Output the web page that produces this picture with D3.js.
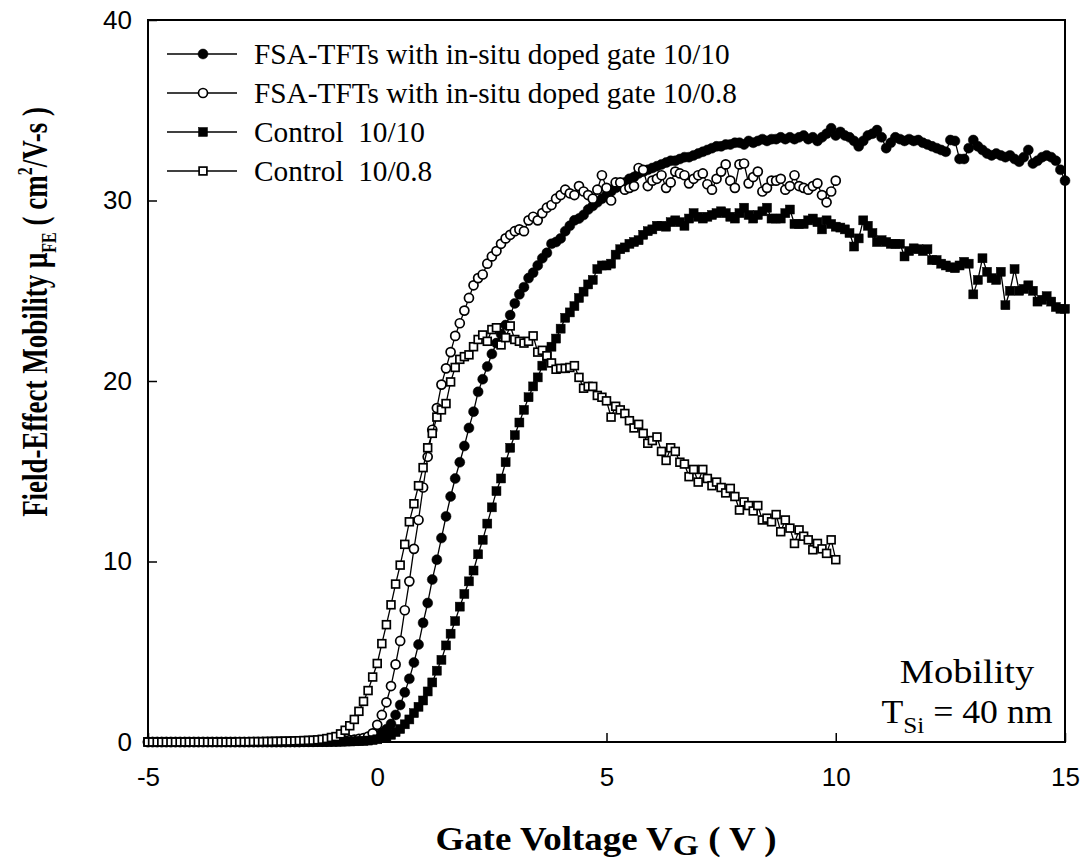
<!DOCTYPE html>
<html>
<head>
<meta charset="utf-8">
<script src="https://cdn.jsdelivr.net/npm/d3@7"></script>
<style>
  body { margin: 0; background: #fff; }
  svg { display: block; }
</style>
</head>
<body>
<svg id="chart" width="1088" height="863"></svg>
<script>
// Gate voltage sweep: -5 V upward in 0.1 V steps
const vgStart = -5
const vgStep = 0.1

// Field-effect mobility (cm2/V-s), one value per 0.1 V
const fsa1010 = [
  0, 0, 0, 0, 0, 0, 0, 0, 0, 0,
  0, 0, 0, 0, 0, 0, 0, 0, 0, 0,
  0, 0, 0, 0, 0, 0, 0, 0, 0, 0,
  0, 0, 0, 0, 0.01, 0.01, 0.01, 0.02, 0.02, 0.02,
  0.03, 0.03, 0.04, 0.05, 0.06, 0.07, 0.09, 0.12, 0.17, 0.24,
  0.35, 0.5, 0.7, 1.0, 1.5, 2.05, 2.75, 3.5, 4.4, 5.4,
  6.6, 7.7, 9.0, 10.1, 11.3, 12.5, 13.6, 14.6, 15.5, 16.4,
  17.4, 18.3, 19.4, 20.1, 20.8, 21.5, 22.1, 22.6, 23.1, 23.65,
  24.3, 24.8, 25.2, 25.7, 26.0, 26.4, 26.8, 27.1, 27.6, 27.7,
  27.9, 28.3, 28.6, 28.9, 29.0, 29.2, 29.5, 29.7, 29.9, 30.1,
  30.3, 30.5, 30.7, 30.8, 31.0, 31.2, 31.3, 31.5, 31.6, 31.7,
  31.8, 31.9, 32.0, 32.1, 32.2, 32.2, 32.3, 32.4, 32.4, 32.5,
  32.6, 32.7, 32.8, 32.9, 33.0, 33.0, 33.1, 33.1, 33.2, 33.2,
  33.1, 33.3, 33.2, 33.3, 33.4, 33.3, 33.4, 33.4, 33.5, 33.4,
  33.5, 33.4, 33.5, 33.6, 33.4, 33.5, 33.3, 33.5, 33.7, 34.0,
  33.6, 33.8, 33.6, 33.5, 33.3, 33.0, 33.3, 33.6, 33.7, 33.9,
  33.5, 32.9, 33.2, 33.5, 33.4, 33.3, 33.4, 33.3, 33.35, 33.2,
  33.1, 33.0, 32.9, 32.8, 32.7, 33.35, 33.3, 32.3, 32.3, 32.9,
  33.35, 33.0, 32.8, 32.6, 32.5, 32.6, 32.5, 32.4, 32.5, 32.3,
  32.15, 32.4, 32.8, 32.05, 32.2, 32.4, 32.5, 32.4, 32.2, 31.7,
  31.1
]

const fsa1008 = [
  0, 0, 0, 0, 0, 0, 0, 0, 0, 0,
  0, 0, 0, 0, 0, 0, 0, 0, 0, 0,
  0, 0, 0, 0, 0, 0, 0, 0, 0, 0,
  0, 0.01, 0.01, 0.01, 0.02, 0.02, 0.03, 0.03, 0.04, 0.05,
  0.05, 0.06, 0.07, 0.08, 0.1, 0.13, 0.17, 0.22, 0.3, 0.48,
  0.95, 1.5, 2.2, 3.1, 4.3, 5.6, 7.3, 8.9, 10.7, 12.3,
  14.1, 15.8, 17.3, 18.5, 19.8, 20.7, 21.6, 22.5, 23.2, 23.9,
  24.6, 25.3, 25.7, 25.9, 26.5, 26.9, 27.2, 27.6, 27.9, 28.1,
  28.3, 28.4, 28.3, 28.9, 29.1, 28.9, 29.3, 29.6, 29.75, 30.1,
  30.3, 30.6, 30.4, 30.3, 30.8, 30.5, 30.3, 30.1, 30.6, 31.4,
  30.7, 30.0, 31.0, 31.0, 30.6, 30.7, 30.8, 31.8, 31.7, 30.8,
  31.1, 31.2, 31.4, 30.7, 31.0, 31.6, 31.5, 31.4, 30.95, 31.2,
  31.4, 31.5, 30.9, 30.6, 31.2, 31.6, 32.0, 31.1, 30.7, 32.0,
  32.05, 30.95, 31.3, 31.6, 30.5, 30.7, 31.1, 31.1, 31.2, 30.6,
  30.8, 31.4, 30.8, 30.7, 30.6, 30.8, 30.95, 30.3, 29.9, 30.5,
  31.1
]

const control1010 = [
  0, 0, 0, 0, 0, 0, 0, 0, 0, 0,
  0, 0, 0, 0, 0, 0, 0, 0, 0, 0,
  0, 0, 0, 0, 0, 0, 0, 0, 0, 0,
  0, 0, 0, 0, 0, 0, 0.01, 0.01, 0.01, 0.01,
  0.02, 0.02, 0.02, 0.03, 0.03, 0.04, 0.05, 0.06, 0.08, 0.11,
  0.15, 0.22, 0.3, 0.4, 0.55, 0.72, 0.98, 1.25, 1.6, 1.95,
  2.3, 2.8, 3.3, 3.95, 4.55, 5.35, 6.0, 6.7, 7.5, 8.2,
  8.9, 9.5, 10.4, 11.2, 12.1, 13.0, 13.9, 14.6, 15.5, 16.3,
  17.0, 17.7, 18.4, 19.1, 19.7, 20.2, 20.85, 21.35, 21.9, 22.35,
  22.9, 23.5, 23.8, 24.15, 24.6, 24.95, 25.35, 25.6, 26.2, 26.4,
  26.4, 26.5, 27.0, 27.3, 27.4, 27.6, 27.7, 27.8, 28.1, 28.3,
  28.4, 28.6, 28.6, 28.55, 28.8, 28.9, 28.8, 28.6, 29.0, 29.3,
  29.1, 29.0, 29.1, 29.2, 29.3, 29.4, 29.3, 29.1, 29.0, 29.3,
  29.6, 29.2, 29.0, 29.2, 29.4, 29.6, 29.0, 29.0, 29.0, 29.3,
  29.5, 28.7, 28.7, 28.7, 28.9, 29.0, 28.8, 28.4, 28.9, 28.7,
  28.55, 28.5, 28.4, 28.2, 27.45, 27.9, 28.9, 28.6, 28.2, 27.7,
  27.8, 27.7, 27.6, 27.6, 27.6, 26.9, 27.2, 27.35, 27.3, 27.2,
  27.3, 26.7, 26.7, 26.5, 26.4, 26.3, 26.25, 26.4, 26.6, 26.5,
  24.8, 25.6, 26.8, 26.05, 25.7, 25.6, 26.05, 24.2, 25.0, 26.2,
  25.0, 25.1, 25.3, 25.0, 24.4, 24.5, 24.7, 24.4, 24.1, 24.0,
  24.0
]

const control1008 = [
  0, 0, 0, 0, 0, 0, 0, 0, 0, 0,
  0, 0, 0, 0, 0, 0, 0, 0, 0, 0,
  0.01, 0.01, 0.01, 0.02, 0.02, 0.02, 0.03, 0.03, 0.04, 0.04,
  0.05, 0.05, 0.06, 0.07, 0.08, 0.09, 0.1, 0.12, 0.15, 0.19,
  0.25, 0.3, 0.45, 0.65, 0.9, 1.25, 1.7, 2.25, 2.85, 3.6,
  4.35, 5.45, 6.5, 7.6, 8.75, 9.8, 10.95, 12.2, 13.2, 14.2,
  15.2, 16.3, 17.1, 18.0, 18.4, 18.75, 19.95, 20.75, 21.2, 21.35,
  21.45, 21.9, 22.3, 22.55, 22.2, 22.85, 22.95, 22.0, 22.4, 23.05,
  22.3, 22.2, 22.1, 22.2, 22.5, 21.6, 21.7, 21.4, 21.0, 20.65,
  20.7, 20.7, 20.75, 20.85, 20.2, 19.6, 19.7, 19.7, 19.2, 19.1,
  18.9, 18.0, 18.6, 18.4, 18.2, 17.8, 17.4, 17.6, 17.1, 16.55,
  16.7, 16.9, 16.1, 15.6, 16.3, 16.1, 15.5, 15.4, 14.7, 15.1,
  14.4, 15.1, 14.6, 14.2, 14.4, 14.1, 13.8, 14.05, 13.6, 12.85,
  13.3, 13.1, 12.8, 13.1, 12.3, 12.4, 12.2, 12.6, 11.65, 12.3,
  11.85, 11.0, 11.75, 11.4, 11.2, 10.65, 11.0, 10.7, 10.45, 11.2,
  10.1
]

const seriesNames = [
  'FSA-TFTs with in-situ doped gate 10/10',
  'FSA-TFTs with in-situ doped gate 10/0.8',
  'Control  10/10',
  'Control  10/0.8'
]
const seriesValues = [fsa1010, fsa1008, control1010, control1008]
const seriesShapes = ['circle', 'circle', 'square', 'square']
const seriesFilled = [true, false, true, false]

const xTicks = [-5, 0, 5, 10, 15]
const yTicks = [0, 10, 20, 30, 40]

const serif = "'Times New Roman', 'Liberation Serif', serif"
const sans = "Arial, 'Liberation Sans', sans-serif"

const svg = d3.select('#chart')
const x = d3.scaleLinear().domain([-5, 15]).range([148, 1065])
const y = d3.scaleLinear().domain([0, 40]).range([742, 20])

// Build the point lists from the sweep grid
const series = seriesValues.map((vals, i) => ({
  name: seriesNames[i],
  shape: seriesShapes[i],
  filled: seriesFilled[i],
  points: vals.map((m, k) => ({ vg: vgStart + k * vgStep, mu: m }))
}))

// Axes with inward ticks
const xAxis = svg.append('g')
  .attr('transform', `translate(0,${y(0)})`)
  .call(d3.axisBottom(x).tickValues(xTicks).tickSize(-9).tickPadding(26).tickFormat(d3.format('d')))
const yAxis = svg.append('g')
  .attr('transform', `translate(${x(-5)},0)`)
  .call(d3.axisLeft(y).tickValues(yTicks).tickSize(-9).tickPadding(16).tickFormat(d3.format('d')))
;[xAxis, yAxis].forEach(g => {
  g.select('.domain').remove()
  g.selectAll('.tick line').attr('stroke', '#000').attr('stroke-width', 1.5)
  g.selectAll('.tick text')
    .attr('fill', '#000')
    .style('font-family', sans)
    .style('font-size', '26px')
    .text(d => d < 0 ? '-' + Math.abs(d) : d)
})

// Frame
svg.append('rect')
  .attr('x', x(-5)).attr('y', y(40))
  .attr('width', x(15) - x(-5)).attr('height', y(0) - y(40))
  .attr('fill', 'none').attr('stroke', '#000').attr('stroke-width', 2)

const line = d3.line().x(d => x(d.vg)).y(d => y(d.mu))

const drawMarker = (sel, s, cx, cy) => {
  if (s.shape === 'circle') {
    sel.append('circle')
      .attr('cx', cx).attr('cy', cy).attr('r', s.filled ? 5 : 4.5)
      .attr('fill', s.filled ? '#000' : '#fff')
      .attr('stroke', '#000').attr('stroke-width', s.filled ? 0.5 : 1.7)
  } else {
    const a = s.filled ? 9 : 7.8
    sel.append('rect')
      .attr('x', cx - a / 2).attr('y', cy - a / 2)
      .attr('width', a).attr('height', a)
      .attr('fill', s.filled ? '#000' : '#fff')
      .attr('stroke', '#000').attr('stroke-width', s.filled ? 0.5 : 1.7)
  }
}

series.forEach(s => {
  const g = svg.append('g')
  g.append('path').datum(s.points)
    .attr('d', line).attr('fill', 'none')
    .attr('stroke', '#000').attr('stroke-width', 1.3)
  s.points.forEach(p => drawMarker(g, s, x(p.vg), y(p.mu)))
})

// Legend
const legend = svg.append('g')
series.forEach((s, i) => {
  const ly = 54 + i * 39
  legend.append('line')
    .attr('x1', 167).attr('x2', 237).attr('y1', ly).attr('y2', ly)
    .attr('stroke', '#000').attr('stroke-width', 1.5)
  drawMarker(legend, s, 203, ly)
  legend.append('text')
    .attr('x', 254).attr('y', ly + 10)
    .style('font-family', serif).style('font-size', '29.3px')
    .style('white-space', 'pre')
    .text(s.name)
})

// Annotation, the source figure is a little stretched sideways
const note = svg.append('text')
  .attr('transform', 'translate(967,683) scale(1.13,1)')
  .attr('text-anchor', 'middle')
  .style('font-family', serif).style('font-size', '34px')
  .text('Mobility')
const note2 = svg.append('text')
  .attr('transform', 'translate(967,723) scale(1.05,1)')
  .attr('text-anchor', 'middle')
  .style('font-family', serif).style('font-size', '34px')
  .style('white-space', 'pre')
note2.append('tspan').text('T')
note2.append('tspan').attr('dy', 10).style('font-size', '24px').text('Si')
note2.append('tspan').attr('dy', -10).text(' = 40 nm')

// Axis titles
const xt = svg.append('text')
  .attr('transform', 'translate(606,850) scale(1.12,1)')
  .attr('text-anchor', 'middle')
  .style('font-family', serif).style('font-size', '33px').style('font-weight', 'bold')
  .style('white-space', 'pre')
xt.append('tspan').text('Gate Voltage V')
xt.append('tspan').attr('dy', 5).style('font-size', '30px').text('G')
xt.append('tspan').attr('dy', -5).text(' ( V )')

const yt = svg.append('text')
  .attr('transform', 'translate(47,312) scale(1.35,1) rotate(-90)')
  .attr('text-anchor', 'middle')
  .style('font-family', serif).style('font-size', '27px').style('font-weight', 'bold')
  .style('white-space', 'pre')
yt.append('tspan').text('Field-Effect Mobility \u03bc')
yt.append('tspan').attr('dy', 7).style('font-size', '16px').text('FE')
yt.append('tspan').attr('dy', -7).text(' ( cm')
yt.append('tspan').attr('dy', -11).style('font-size', '16px').text('2')
yt.append('tspan').attr('dy', 11).text('/V-s )')
</script>
</body>
</html>
